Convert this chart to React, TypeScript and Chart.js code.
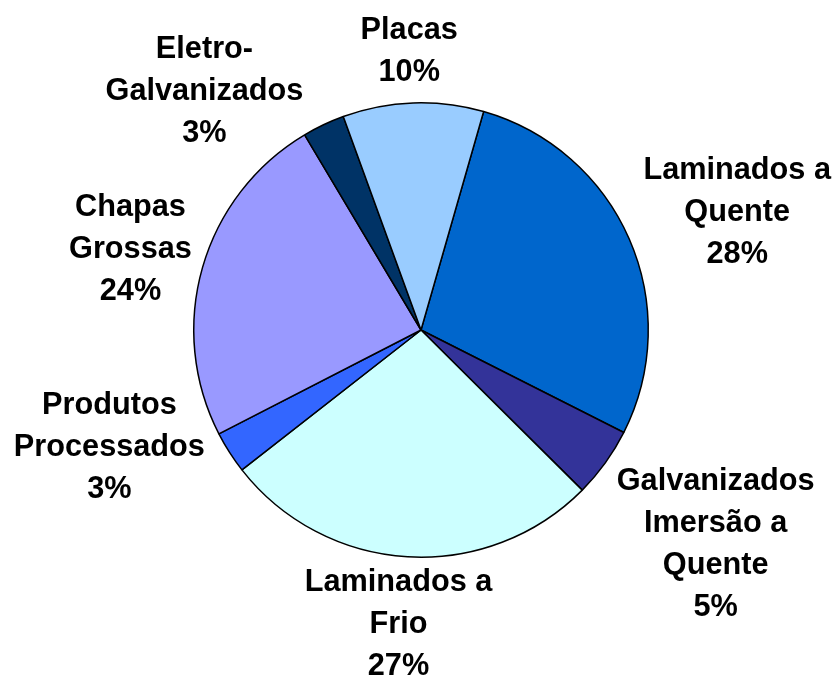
import React, { useEffect, useRef } from "react";
import { Chart, registerables } from "chart.js";

Chart.register(...registerables);

const categories = [
  "Laminados a\nQuente",
  "Galvanizados\nImersão a\nQuente",
  "Laminados a\nFrio",
  "Produtos\nProcessados",
  "Chapas\nGrossas",
  "Eletro-\nGalvanizados",
  "Placas",
];
const shares = [28, 5, 27, 3, 24, 3, 10];
const colors = ["#0066CC", "#333399", "#CCFFFF", "#3366FF", "#9999FF", "#003366", "#99CCFF"];

// label layout: extra distance beyond the pie edge (px) and angular nudge (deg)
const labelGap = [111, 136, 66, 105, 75, 97, 54];
const labelShift = [2.8, 0, 1, 12.3, 0, -16.5, -0.4];

const FONT_PX = 30.7;
const LINE_H = 42;

const outLabels = {
  id: "outLabels",
  afterDatasetsDraw(chart: any) {
    const ctx = chart.ctx as CanvasRenderingContext2D;
    const meta = chart.getDatasetMeta(0);
    ctx.save();
    ctx.font = `bold ${FONT_PX}px "Liberation Sans", Arial, sans-serif`;
    ctx.fillStyle = "#000";
    ctx.textAlign = "center";
    ctx.textBaseline = "alphabetic";
    meta.data.forEach((arc: any, i: number) => {
      const { x, y, startAngle, endAngle, outerRadius } = arc.getProps(
        ["x", "y", "startAngle", "endAngle", "outerRadius"],
        true
      );
      const mid = (startAngle + endAngle) / 2 + (labelShift[i] * Math.PI) / 180;
      const r = outerRadius + labelGap[i];
      const cx = x + r * Math.cos(mid);
      const cy = y + r * Math.sin(mid);
      const lines = [...categories[i].split("\n"), `${shares[i]}%`];
      const n = lines.length;
      lines.forEach((t, k) => {
        const ly = cy + (k - (n - 1) / 2) * LINE_H + FONT_PX * 0.358;
        ctx.fillText(t, cx, ly);
      });
    });
    ctx.restore();
  },
};

export default function App() {
  const ref = useRef<HTMLCanvasElement>(null);
  useEffect(() => {
    if (!ref.current) return;
    const chart = new Chart(ref.current, {
      type: "pie",
      data: {
        labels: categories.map((c) => c.replace(/\n/g, " ")),
        datasets: [
          {
            data: shares,
            backgroundColor: colors,
            borderColor: "#000000",
            borderWidth: 1.5,
          },
        ],
      },
      options: {
        responsive: false,
        animation: false,
        rotation: 16,
        layout: { padding: { left: 193, right: 185, top: 102, bottom: 120 } },
        plugins: {
          legend: { display: false },
          tooltip: { enabled: false },
        },
      },
      plugins: [outLabels],
    });
    return () => chart.destroy();
  }, []);
  return (
    <div style={{ position: "absolute", left: 0, top: 0, width: 834, height: 678, background: "#fff" }}>
      <canvas ref={ref} width={834} height={678} style={{ display: "block" }} />
    </div>
  );
}
